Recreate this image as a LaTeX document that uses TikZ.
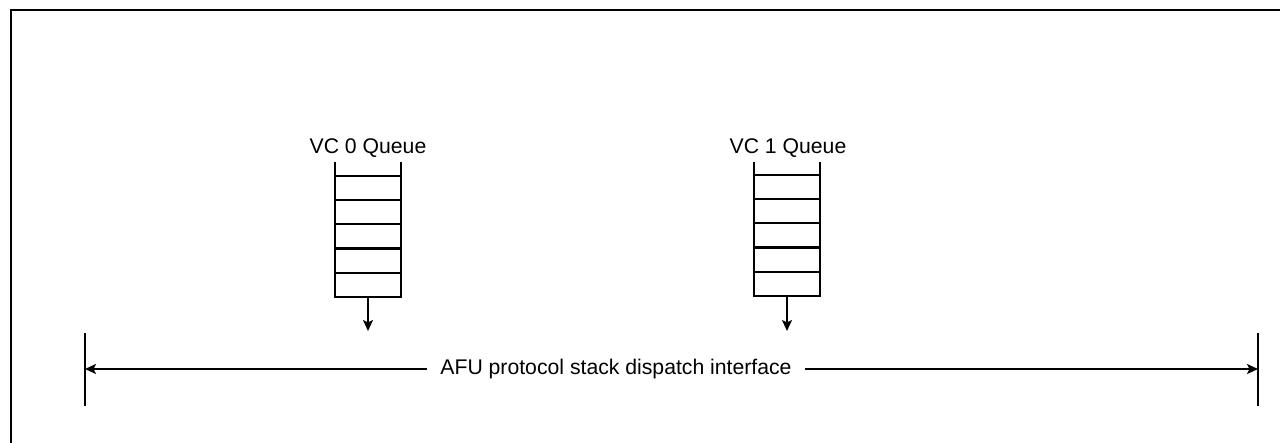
\documentclass[tikz,border=0pt]{standalone}
\usepackage{fontspec}
\setmainfont{Liberation Sans}
\usetikzlibrary{arrows.meta}
\begin{document}
\begin{tikzpicture}[x=1pt,y=-1pt,
  cell/.style={draw,line width=2pt,minimum width=66pt,minimum height=24pt,inner sep=0pt,outer sep=0pt},
  wall/.style={line width=2pt},
  lbl/.style={font=\fontsize{21.2}{24}\selectfont,inner sep=0pt,anchor=base},
  arr/.style={line width=2pt,-{Stealth[length=11pt,width=10pt,inset=2.5pt]}},
  frame/.style={line width=1.5pt}]
\useasboundingbox (0,0) rectangle (1280,443);
\draw[frame] (11,10) rectangle (1300,460);
% Queue 0
\foreach \i in {1,...,5} {
  \node[cell] (qa\i) at (368,176+24.2*\i-12.1) {};
}
\coordinate (qatl) at (335,162);
\coordinate (qatr) at (401,162);
\draw[wall] (qatl) -- (qa1.north west);
\draw[wall] (qatr) -- (qa1.north east);
\node[lbl] (la) at (368,154) {VC 0 Queue};
\coordinate (qaout) at (368,331);
\draw[arr] (qa5.south) -- (qaout);
% Queue 1
\foreach \i in {1,...,5} {
  \node[cell] (qb\i) at (787,175+24.2*\i-12.1) {};
}
\coordinate (qbtl) at (754,162);
\coordinate (qbtr) at (820,162);
\draw[wall] (qbtl) -- (qb1.north west);
\draw[wall] (qbtr) -- (qb1.north east);
\node[lbl] (lb) at (788,154) {VC 1 Queue};
\coordinate (qbout) at (787,331);
\draw[arr] (qb5.south) -- (qbout);
% Interface
\coordinate (bl1) at (85,333);
\coordinate (bl2) at (85,406.5);
\coordinate (br1) at (1258,333);
\coordinate (br2) at (1258,406.5);
\draw[wall] (bl1) -- (bl2);
\draw[wall] (br1) -- (br2);
\coordinate (al) at (85,369);
\coordinate (ar) at (1258,369);
\node[font=\fontsize{21.2}{24}\selectfont,inner xsep=13pt,inner ysep=0pt] (ifc) at (616,369) {AFU protocol stack dispatch interface};
\draw[arr] (ifc.west) -- (al);
\draw[arr] (ifc.east) -- (ar);
\end{tikzpicture}
\end{document}
